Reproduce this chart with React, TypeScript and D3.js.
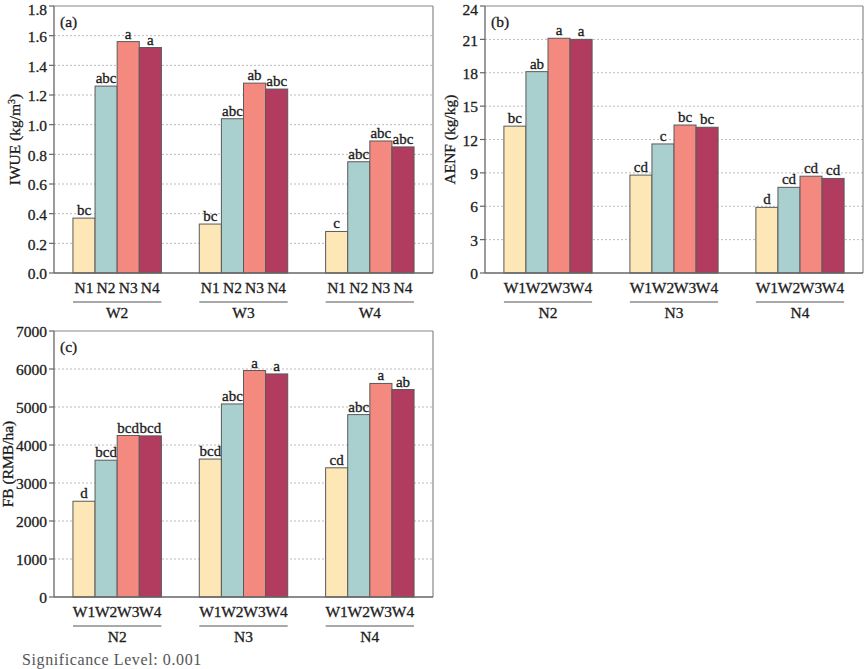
import React from "react";
import * as d3 from "d3";

// colours for the four sub-bars of each group
const barColors = ["#FDE7B6", "#A9D0CE", "#F3897F", "#B23B60"];

// (a) IWUE, grouped by irrigation level
const iwueGroups = ["W2", "W3", "W4"];
const iwueSubs = ["N1", "N2", "N3", "N4"];
const iwueValues = [
  [0.37, 1.26, 1.56, 1.52],
  [0.33, 1.04, 1.28, 1.24],
  [0.28, 0.75, 0.89, 0.85],
];
const iwueLetters = [
  ["bc", "abc", "a", "a"],
  ["bc", "abc", "ab", "abc"],
  ["c", "abc", "abc", "abc"],
];
const iwueTicks = [0, 0.2, 0.4, 0.6, 0.8, 1.0, 1.2, 1.4, 1.6, 1.8];

// (b) AENF, grouped by nitrogen level
const aenfGroups = ["N2", "N3", "N4"];
const aenfSubs = ["W1", "W2", "W3", "W4"];
const aenfValues = [
  [13.2, 18.1, 21.1, 21.0],
  [8.8, 11.6, 13.3, 13.1],
  [5.9, 7.7, 8.7, 8.5],
];
const aenfLetters = [
  ["bc", "ab", "a", "a"],
  ["cd", "c", "bc", "bc"],
  ["d", "cd", "cd", "cd"],
];
const aenfTicks = [0, 3, 6, 9, 12, 15, 18, 21, 24];

// (c) FB, grouped by nitrogen level
const fbGroups = ["N2", "N3", "N4"];
const fbSubs = ["W1", "W2", "W3", "W4"];
const fbValues = [
  [2520, 3600, 4250, 4240],
  [3630, 5080, 5960, 5870],
  [3400, 4800, 5620, 5460],
];
const fbLetters = [
  ["d", "bcd", "bcd", "bcd"],
  ["bcd", "abc", "a", "a"],
  ["cd", "abc", "a", "ab"],
];
const fbTicks = [0, 1000, 2000, 3000, 4000, 5000, 6000, 7000];

const serif = "'Liberation Serif', 'Times New Roman', serif";
const ink = "#1c1c1c";

type PanelProps = {
  left: number;
  right: number;
  top: number;
  bottom: number;
  groups: string[];
  subs: string[];
  values: number[][];
  letters: string[][];
  ticks: number[];
  fmt: (v: number) => string;
  tag: string;
  ylabel: React.ReactNode;
  ylabelX: number;
};

function Panel(p: PanelProps) {
  const x0 = d3.scaleBand<string>().domain(p.groups).range([p.left, p.right]).paddingInner(0.3).paddingOuter(0.15);
  const x1 = d3.scaleBand<string>().domain(p.subs).range([0, x0.bandwidth()]);
  const yMax = p.ticks[p.ticks.length - 1];
  const y = d3.scaleLinear().domain([0, yMax]).range([p.bottom, p.top]);

  return (
    <g fontFamily={serif} fill={ink} stroke={ink} strokeWidth={0}>
      {/* grid */}
      {p.ticks.slice(1, -1).map((t) => (
        <line key={t} x1={p.left} x2={p.right} y1={y(t)} y2={y(t)} stroke="#bbb" strokeWidth={1} strokeDasharray="2,2" />
      ))}
      {/* bars */}
      {p.groups.map((g, gi) => (
        <g key={g} transform={`translate(${x0(g)},0)`}>
          {p.subs.map((s, si) => {
            const v = p.values[gi][si];
            const bx = x1(s)!;
            return (
              <g key={s}>
                <rect x={bx} y={y(v)} width={x1.bandwidth()} height={p.bottom - y(v)} fill={barColors[si]} stroke="#5a5a5a" strokeWidth={1} />
                <text x={bx + x1.bandwidth() / 2} y={y(v) - 3} textAnchor="middle" fontSize={15} strokeWidth={0.3}>
                  {p.letters[gi][si]}
                </text>
                <text x={bx + x1.bandwidth() / 2} y={p.bottom + 20} textAnchor="middle" fontSize={15.5} strokeWidth={0.3}>
                  {s}
                </text>
              </g>
            );
          })}
          <line x1={0} x2={x0.bandwidth()} y1={p.bottom + 29} y2={p.bottom + 29} stroke="#555" strokeWidth={1.2} />
          <text x={x0.bandwidth() / 2} y={p.bottom + 45} textAnchor="middle" fontSize={15.5} strokeWidth={0.3}>
            {g}
          </text>
        </g>
      ))}
      {/* frame */}
      <line x1={p.left} x2={p.right} y1={p.top} y2={p.top} stroke="#888" strokeWidth={1.2} />
      <line x1={p.right} x2={p.right} y1={p.top} y2={p.bottom} stroke="#888" strokeWidth={1.2} />
      <line x1={p.left} x2={p.right} y1={p.bottom} y2={p.bottom} stroke="#666" strokeWidth={1.3} />
      <line x1={p.left} x2={p.left} y1={p.top} y2={p.bottom} stroke="#666" strokeWidth={1.3} />
      {/* y ticks */}
      {p.ticks.map((t) => (
        <g key={t}>
          <line x1={p.left - 5} x2={p.left} y1={y(t)} y2={y(t)} stroke="#666" strokeWidth={1.2} />
          <text x={p.left - 7} y={Math.max(y(t), 8.5)} dy="0.4em" textAnchor="end" fontSize={15.5} strokeWidth={0.3}>
            {p.fmt(t)}
          </text>
        </g>
      ))}
      <text x={p.left + 6} y={p.top + 21} fontSize={15.5} strokeWidth={0.3}>
        {p.tag}
      </text>
      <text
        transform={`translate(${p.ylabelX},${(p.top + p.bottom) / 2}) rotate(-90)`}
        textAnchor="middle"
        fontSize={15.5}
        strokeWidth={0.3}
      >
        {p.ylabel}
      </text>
    </g>
  );
}

export default function App() {
  return (
    <svg width={865} height={669} style={{ position: "absolute", left: 0, top: 0, background: "#fff" }}>
      <rect width={865} height={669} fill="#fff" />
      <Panel
        left={54}
        right={433}
        top={6}
        bottom={273}
        groups={iwueGroups}
        subs={iwueSubs}
        values={iwueValues}
        letters={iwueLetters}
        ticks={iwueTicks}
        fmt={d3.format(".1f")}
        tag="(a)"
        ylabel={
          <>
            IWUE (kg/m<tspan dy={-5} fontSize={10}>3</tspan>
            <tspan dy={5}>)</tspan>
          </>
        }
        ylabelX={20}
      />
      <Panel
        left={485}
        right={863}
        top={6}
        bottom={273}
        groups={aenfGroups}
        subs={aenfSubs}
        values={aenfValues}
        letters={aenfLetters}
        ticks={aenfTicks}
        fmt={d3.format("d")}
        tag="(b)"
        ylabel="AENF (kg/kg)"
        ylabelX={455}
      />
      <Panel
        left={54}
        right={433}
        top={331}
        bottom={597}
        groups={fbGroups}
        subs={fbSubs}
        values={fbValues}
        letters={fbLetters}
        ticks={fbTicks}
        fmt={d3.format("d")}
        tag="(c)"
        ylabel="FB (RMB/ha)"
        ylabelX={13}
      />
      <text x={22} y={665} fontFamily={serif} fontSize={16} fill="#555" letterSpacing={0.6}>
        Significance Level: 0.001
      </text>
    </svg>
  );
}
